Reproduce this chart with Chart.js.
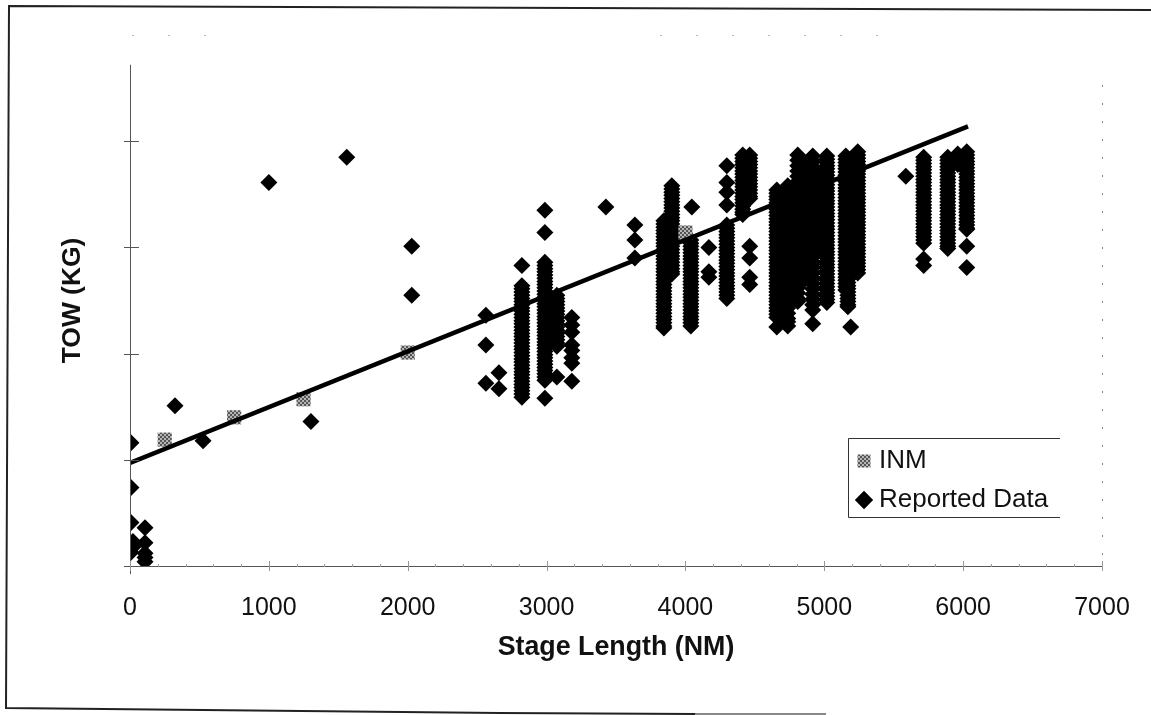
<!DOCTYPE html>
<html>
<head>
<meta charset="utf-8">
<title>TOW vs Stage Length</title>
<script src="https://cdn.jsdelivr.net/npm/chart.js@4"></script>
<style>
    html, body { margin: 0; padding: 0; background: #fff; }
    canvas { display: block; }
</style>
</head>
<body>
<canvas id="towChart" width="1151" height="715"></canvas>
<script>
// Tick values along the stage length axis, only the thousands get a label
const xTickLabels = ['0', '1000', '2000', '3000', '4000', '5000', '6000', '7000'];

// INM series, stage length in NM and TOW in 1000 kg (the y axis has no printed numbers, scale is estimated)
const inmStage = [250, 750, 1250, 2000, 4000];
const inmTow = [119, 140, 157, 201, 314];

// Trend line ends
const trendStage = [0, 6035];
const trendTow = [97, 414];

// Reported data, one list of TOW values for each stage length
const reportedStage = [7, 21, 108, 324, 526, 1000, 1303, 1561, 2029, 2563, 2657, 2822, 2988, 3074, 3182, 3427, 3636,
    3845, 3902, 4039, 4046, 4169, 4298, 4413, 4463, 4658, 4737, 4809, 4860, 4917, 4968, 5018,
    5155, 5170, 5190, 5241, 5587, 5716, 5889, 5961, 6026];
const reportedTow = [
    [116, 74, 41, 13],
    [23, 18],
    [36, 22, 12, 8, 4],
    [151],
    [118],
    [361],
    [136],
    [385],
    [301, 255],
    [236, 208, 172],
    [182, 167],
    [283, 264, 261, 258, 255, 252, 249, 246, 243, 240, 237, 234, 231, 228, 225, 222, 219, 216, 213, 210, 207, 204, 201, 198, 195, 192, 189, 186, 183, 180, 177, 174, 171, 168, 165, 162, 159],
    [335, 314, 286, 283, 280, 277, 274, 271, 268, 265, 262, 259, 256, 253, 250, 247, 244, 241, 238, 235, 232, 229, 226, 223, 220, 217, 214, 211, 208, 205, 202, 199, 196, 193, 190, 187, 184, 181, 178, 175, 158],
    [255, 252, 249, 246, 243, 240, 237, 234, 231, 228, 225, 222, 219, 216, 213, 210, 207, 178],
    [234, 227, 220, 208, 203, 196, 191, 174],
    [338],
    [321, 307, 290],
    [325, 322, 319, 316, 313, 310, 307, 304, 301, 298, 295, 292, 289, 286, 283, 280, 277, 274, 271, 268, 265, 262, 259, 256, 253, 250, 247, 244, 241, 238, 235, 232, 229, 226, 224],
    [358, 355, 352, 349, 346, 343, 340, 337, 334, 331, 328, 325, 322, 319, 316, 313, 310, 307, 304, 301, 298, 295, 292, 289, 286, 283, 280, 277, 275],
    [307, 304, 301, 298, 295, 292, 289, 286, 283, 280, 277, 274, 271, 268, 265, 262, 259, 256, 253, 250, 247, 244, 241, 238, 235, 232, 229, 226],
    [338],
    [300, 277, 272],
    [377, 361, 352, 340, 321, 318, 315, 312, 309, 306, 303, 300, 297, 294, 291, 288, 285, 282, 279, 276, 273, 270, 267, 264, 261, 258, 255, 252],
    [387, 384, 381, 378, 375, 372, 369, 366, 363, 360, 357, 354, 351, 348, 345, 342, 339, 336, 333, 331],
    [387, 384, 381, 378, 375, 372, 369, 366, 363, 360, 357, 354, 351, 348, 346, 301, 290, 272, 265],
    [354, 351, 348, 345, 342, 339, 336, 333, 330, 327, 324, 321, 318, 315, 312, 309, 306, 303, 300, 297, 294, 291, 288, 285, 282, 279, 276, 273, 270, 267, 264, 261, 258, 255, 252, 249, 246, 243, 240, 237, 234, 225],
    [358, 353, 348, 343, 338, 333, 328, 323, 318, 313, 308, 303, 298, 293, 288, 283, 278, 273, 268, 263, 258, 253, 248, 243, 238, 233, 230, 226],
    [387, 382, 377, 372, 367, 362, 357, 352, 347, 342, 337, 332, 327, 322, 317, 312, 307, 302, 297, 292, 287, 282, 277, 272, 267, 262, 257, 252, 249],
    [378, 373, 368, 363, 358, 353, 348, 343, 338, 333, 328, 323, 318, 313, 308, 303, 298, 293, 288, 283, 278, 273, 270],
    [386, 381, 376, 371, 366, 361, 356, 351, 346, 341, 336, 331, 326, 321, 316, 311, 306, 301, 296, 291, 286, 281, 276, 271, 266, 261, 256, 251, 246, 241, 228],
    [369, 364, 359, 354, 349, 344, 339, 334, 329, 324, 319, 314, 309, 304, 298],
    [386, 383, 380, 377, 374, 371, 368, 365, 362, 359, 356, 353, 350, 347, 344, 341, 338, 335, 332, 329, 326, 323, 320, 317, 314, 311, 308, 305, 302, 299, 296, 293, 290, 287, 284, 281, 278, 275, 272, 269, 266, 263, 260, 257, 254, 251, 248],
    [386, 383, 380, 377, 374, 371, 368, 365, 362, 359, 356, 353, 350, 347, 344, 341, 338, 335, 332, 329, 326, 323, 320, 317, 314, 311, 308, 305, 302, 299, 296, 293, 290, 287, 284, 281, 278, 275, 272, 269, 266, 263, 260],
    [300, 297, 294, 291, 288, 285, 282, 279, 276, 273, 270, 267, 264, 261, 258, 255, 252, 249, 246, 244],
    [225],
    [390, 387, 384, 381, 378, 375, 372, 369, 366, 363, 360, 357, 354, 351, 348, 345, 342, 339, 336, 333, 330, 327, 324, 321, 318, 315, 312, 309, 306, 303, 300, 297, 294, 291, 288, 285, 282, 279, 276],
    [367],
    [385, 382, 379, 376, 373, 370, 367, 364, 361, 358, 355, 352, 349, 346, 343, 340, 337, 334, 331, 328, 325, 322, 319, 316, 313, 310, 307, 304, 289, 283],
    [385, 382, 379, 376, 373, 370, 367, 364, 361, 358, 355, 352, 349, 346, 343, 340, 337, 334, 331, 328, 325, 322, 319, 316, 313, 310, 307, 304, 301, 299],
    [388, 383, 378],
    [390, 387, 384, 381, 378, 375, 372, 369, 366, 363, 360, 357, 354, 351, 348, 345, 342, 339, 336, 333, 330, 327, 324, 321, 318, 317, 301, 281]
];

const reportedPoints = [];
reportedStage.forEach((stage, i) => {
    reportedTow[i].forEach(tow => reportedPoints.push({ x: stage, y: tow }));
});

// Gray stipple of the INM squares
function stipple() {
    const tile = document.createElement('canvas');
    tile.width = 4;
    tile.height = 4;
    const g = tile.getContext('2d');
    g.fillStyle = '#b5b5b5';
    g.fillRect(0, 0, 4, 4);
    g.fillStyle = '#555';
    g.fillRect(0, 0, 2, 2);
    g.fillRect(2, 2, 2, 2);
    return g.createPattern(tile, 'repeat');
}

// Frame round the picture, legend box, and axis lines with ticks that cross them
const scanMarks = {
    id: 'scanMarks',
    beforeDraw(chart) {
        const c = chart.ctx;
        const legend = chart.legend;
        legend.left = 849;
        legend.top = 435;
        c.save();
        c.strokeStyle = '#222';
        c.lineWidth = 2;
        c.beginPath();
        c.moveTo(1151, 10);
        c.lineTo(9, 6);
        c.lineTo(6, 708);
        c.lineTo(500, 713);
        c.lineTo(695, 714);
        c.stroke();
        c.strokeStyle = '#888';
        c.beginPath();
        c.moveTo(695, 714);
        c.lineTo(826, 714);
        c.stroke();
        c.restore();
    },
    afterDraw(chart) {
        const c = chart.ctx;
        const { x, y } = chart.scales;
        const base = y.getPixelForValue(0);
        const area = chart.chartArea;
        c.save();
        c.strokeStyle = '#555';
        c.lineWidth = 1;
        // axes
        c.beginPath();
        c.moveTo(area.left + 0.5, y.getPixelForValue(472));
        c.lineTo(area.left + 0.5, base + 8);
        c.moveTo(area.left - 6, base + 0.5);
        c.lineTo(area.right, base + 0.5);
        y.ticks.forEach(t => {
            if (t.value >= 500) return;
            const py = Math.round(y.getPixelForValue(t.value)) + 0.5;
            c.moveTo(area.left - 6, py);
            c.lineTo(area.left + 9, py);
        });
        c.stroke();
        c.strokeStyle = '#999';
        c.beginPath();
        x.ticks.forEach(t => {
            const px = Math.round(x.getPixelForValue(t.value)) + 0.5;
            const major = t.value % 1000 === 0;
            c.moveTo(px, base - (major ? 5 : 2));
            c.lineTo(px, base + (major ? 5 : 1));
        });
        c.stroke();
        // faint dots of the plot border
        c.strokeStyle = '#888';
        c.setLineDash([2, 16]);
        c.beginPath();
        c.moveTo(area.right + 0.5, area.top + 50);
        c.lineTo(area.right + 0.5, base);
        c.stroke();
        c.strokeStyle = '#bbb';
        c.setLineDash([2, 34]);
        c.beginPath();
        c.moveTo(area.left + 2, area.top + 0.5);
        c.lineTo(240, area.top + 0.5);
        c.moveTo(660, area.top + 0.5);
        c.lineTo(890, area.top + 0.5);
        c.stroke();
        // legend box, open at the right
        c.setLineDash([]);
        c.strokeStyle = '#333';
        c.beginPath();
        c.moveTo(1060, 438.5);
        c.lineTo(848.5, 438.5);
        c.lineTo(848.5, 517.5);
        c.lineTo(1060, 517.5);
        c.stroke();
        c.restore();
    }
};

new Chart(document.getElementById('towChart'), {
    type: 'scatter',
    data: {
        datasets: [
            {
                label: 'INM',
                data: inmStage.map((s, i) => ({ x: s, y: inmTow[i] })),
                pointStyle: 'rect',
                pointRadius: 10,
                pointBorderWidth: 0,
                backgroundColor: stipple(),
                order: 1
            },
            {
                label: 'Reported Data',
                data: reportedPoints,
                pointStyle: 'rectRot',
                pointRadius: 8.5,
                pointBorderWidth: 0,
                backgroundColor: '#000',
                order: 2
            },
            {
                label: 'Trend',
                data: trendStage.map((s, i) => ({ x: s, y: trendTow[i] })),
                showLine: true,
                pointRadius: 0,
                borderColor: '#000',
                borderWidth: 4.5,
                order: 0
            }
        ]
    },
    options: {
        responsive: false,
        animation: false,
        layout: { padding: { top: 35, right: 49, bottom: 0, left: 0 } },
        plugins: {
            title: { display: false },
            tooltip: { enabled: false },
            legend: {
                position: 'chartArea',
                align: 'start',
                labels: {
                    usePointStyle: true,
                    boxWidth: 4,
                    boxHeight: 13,
                    padding: 13,
                    color: '#111',
                    font: { family: '"Liberation Sans", Arial, sans-serif', size: 26 },
                    filter: item => item.text !== 'Trend'
                }
            }
        },
        scales: {
            x: {
                type: 'linear',
                min: 0,
                max: 7000,
                afterFit(scale) { scale.height = 149; },
                afterBuildTicks(scale) {
                    // minor ticks every 200, labels only on the listed thousands
                    const minor = [];
                    for (let v = 0; v <= 7000; v += 200) minor.push({ value: v });
                    scale.ticks = minor;
                },
                grid: { display: false },
                border: { display: false },
                ticks: {
                    autoSkip: false,
                    maxRotation: 0,
                    padding: 19,
                    color: '#111',
                    font: { family: '"Liberation Sans", Arial, sans-serif', size: 25 },
                    callback: v => xTickLabels.includes(String(v)) ? String(v) : ''
                },
                title: {
                    display: true,
                    text: 'Stage Length (NM)',
                    color: '#111',
                    padding: { top: 0, bottom: 51 },
                    font: { family: '"Liberation Sans", Arial, sans-serif', size: 26.8, weight: 'bold' }
                }
            },
            y: {
                min: 0,
                max: 500,
                afterFit(scale) { scale.width = 130; },
                grid: { display: false },
                border: { display: false },
                ticks: { stepSize: 100, display: false },
                title: {
                    display: true,
                    text: 'TOW (KG)',
                    color: '#111',
                    padding: { top: 57, bottom: 0 },
                    font: { family: '"Liberation Sans", Arial, sans-serif', size: 26.4, weight: 'bold' }
                }
            }
        }
    },
    plugins: [scanMarks]
});
</script>
</body>
</html>
